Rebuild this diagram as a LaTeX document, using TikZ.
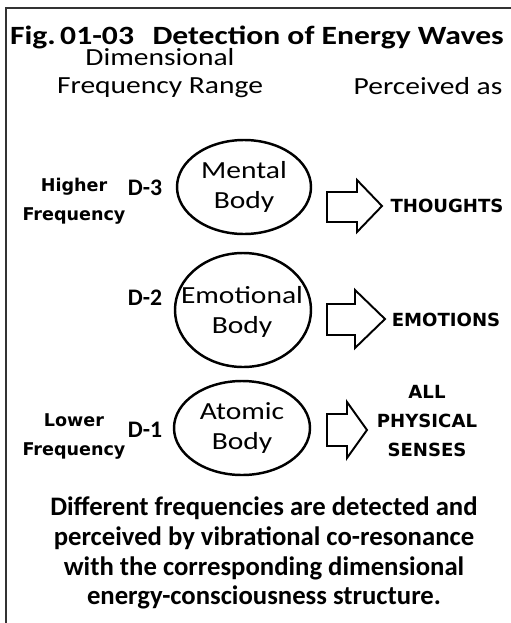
\documentclass[tikz,border=0pt]{standalone}
\usepackage{fontspec}
\setmainfont{Carlito}
\newfontfamily\widefont{Carlito}[FakeStretch=1.2]
\newfontfamily\tagfont{DejaVu Sans}

\begin{document}
\begin{tikzpicture}[x=0.02cm, y=-0.02cm,
    body/.style={align=center, inner sep=0pt, font=\widefont\fontsize{14}{17}\selectfont},
    bodyline/.style={line width=1.4pt},
    dim/.style={font=\fontsize{13.5}{15}\selectfont\bfseries},
    freq/.style={align=center, font=\tagfont\fontsize{10}{16.5}\selectfont\bfseries},
    sense/.style={align=center, font=\tagfont\fontsize{10.3}{16.5}\selectfont\bfseries},
    heading/.style={align=center, font=\widefont\fontsize{14}{15.5}\selectfont},
    blockarrow/.style={draw, line width=1.1pt, line join=miter}]
            \useasboundingbox (0,0) rectangle (511,623);
            \draw[line width=1.1pt, black!80] (6,623) -- (6,8) -- (511,8);
            \node[font=\widefont\fontsize{15}{18}\selectfont\bfseries] (title) at (257,37) {Fig.\,01-03\hspace{0.7em}Detection of Energy Waves};
            \node[heading] (range) at (160,73) {Dimensional\\Frequency Range};
            \node[heading] (perceived) at (428,86) {Perceived as};
            % three dimensional bodies
            \node[body] (mental) at (244,187) {Mental\\Body};
            \node[body] (emotional) at (242,312) {Emotional\\Body};
            \node[body] (atomic) at (242,428) {Atomic\\Body};
            \draw[bodyline] (mental) ellipse [x radius=67, y radius=47];
            \draw[bodyline] (243,310) ellipse [x radius=68, y radius=57];
            \draw[bodyline] (atomic) ellipse [x radius=68, y radius=47];
            \node[dim] (d3) at (145,188) {D-3};
            \node[dim] (d2) at (145,298) {D-2};
            \node[dim] (d1) at (145,430) {D-1};
            \node[freq] (higher) at (74,201) {Higher\\Frequency};
            \node[freq] (lower) at (74,436) {Lower\\Frequency};
            % perceived as
            \draw[blockarrow] (327,192) -- (357,192) -- (357,180) -- (382,206) -- (357,232) -- (357,222) -- (327,222) -- cycle;
            \draw[blockarrow] (327,304) -- (355,304) -- (355,290) -- (385,319) -- (355,348) -- (355,335) -- (327,335) -- cycle;
            \draw[blockarrow] (327,414) -- (347,414) -- (347,402) -- (367,430) -- (347,458) -- (347,446) -- (327,446) -- cycle;
            \node[sense] (thoughts) at (447,206) {THOUGHTS};
            \node[sense] (emotions) at (446,320) {EMOTIONS};
            \node[sense] (senses) at (427,421) {ALL\\PHYSICAL\\SENSES};
            \node[align=center, font=\fontsize{15.2}{17}\selectfont\bfseries] (caption) at (264,553) {Different frequencies are detected and\\perceived by vibrational co-resonance\\with the corresponding dimensional\\energy-consciousness structure.};
        \end{tikzpicture}
\end{document}
